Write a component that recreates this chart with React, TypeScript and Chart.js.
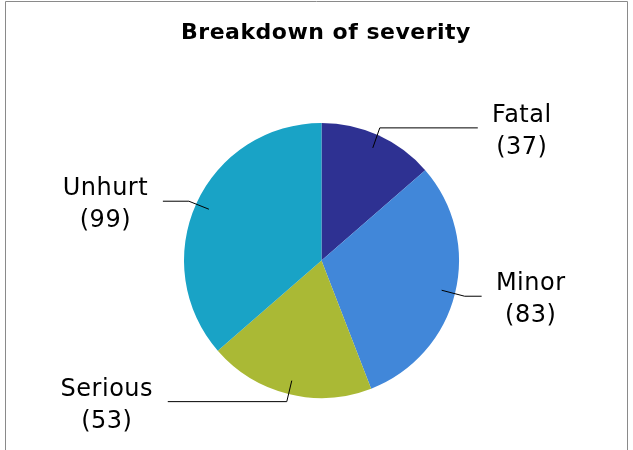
import React, { useEffect, useRef } from "react";
import { Chart, registerables } from "chart.js";

Chart.register(...registerables);

const TITLE = "Breakdown of severity";
const categories = ["Fatal", "Minor", "Serious", "Unhurt"];
const values = [37, 83, 53, 99];
const colors = ["#2E3192", "#4187D9", "#AAB935", "#19A3C6"];

// leader-line layout: elbow offset from start point, horizontal run length (signed)
const elbowDx = [7, 23, -5, -20];
const elbowDy = [-20, 6, 21, -8];
const runLen = [98, 17, -119, -26];

const FONT = '"DejaVu Sans", Verdana, sans-serif';

const labelPlugin = {
  id: "severityLabels",
  afterDraw(chart: any) {
    const ctx = chart.ctx;
    ctx.save();
    // border
    ctx.strokeStyle = "#8a8a8a";
    ctx.lineWidth = 1;
    ctx.beginPath();
    ctx.moveTo(5.5, 460);
    ctx.lineTo(5.5, 1.5);
    ctx.lineTo(627.5, 1.5);
    ctx.lineTo(627.5, 460);
    ctx.stroke();

    // title
    ctx.fillStyle = "#000";
    ctx.font = `bold 22px ${FONT}`;
    (ctx as any).letterSpacing = "0.5px";
    ctx.textAlign = "center";
    ctx.textBaseline = "alphabetic";
    ctx.fillText(TITLE, 326, 38.5);

    const meta = chart.getDatasetMeta(0);
    meta.data.forEach((arc: any, i: number) => {
      const p = arc.getProps(["x", "y", "startAngle", "endAngle", "outerRadius"], true);
      const mid = (p.startAngle + p.endAngle) / 2;
      const sx = p.x + Math.cos(mid) * p.outerRadius * 0.9;
      const sy = p.y + Math.sin(mid) * p.outerRadius * 0.9;
      const ex = sx + elbowDx[i];
      const ey = sy + elbowDy[i];
      const fx = ex + runLen[i];
      ctx.strokeStyle = "#000";
      ctx.lineWidth = 1;
      ctx.beginPath();
      ctx.moveTo(sx, sy);
      ctx.lineTo(ex, ey);
      ctx.lineTo(fx, ey);
      ctx.stroke();

      const right = runLen[i] > 0;
      ctx.font = `24px ${FONT}`;
      (ctx as any).letterSpacing = "0.5px";
      const l1 = categories[i];
      const l2 = `(${values[i]})`;
      const w = Math.max(ctx.measureText(l1).width, ctx.measureText(l2).width);
      const cx = right ? fx + 14 + w / 2 : fx - 15 - w / 2;
      ctx.textAlign = "center";
      ctx.fillStyle = "#000";
      ctx.fillText(l1, cx + 0.25, ey - 6);
      ctx.fillText(l2, cx + 0.25, ey + 26);
    });
    ctx.restore();
  },
};

export default function App() {
  const ref = useRef<HTMLCanvasElement | null>(null);
  useEffect(() => {
    if (!ref.current) return;
    const chart = new Chart(ref.current, {
      type: "pie",
      data: {
        labels: categories,
        datasets: [
          {
            data: values,
            backgroundColor: colors,
            borderWidth: 0,
          },
        ],
      },
      options: {
        animation: false,
        responsive: false,
        layout: { padding: { left: 184, right: 174, top: 123, bottom: 52 } },
        plugins: {
          legend: { display: false },
          tooltip: { enabled: false },
          title: { display: false },
        },
      },
      plugins: [labelPlugin],
    });
    return () => chart.destroy();
  }, []);
  return (
    <div style={{ position: "absolute", left: 0, top: 0, width: 633, height: 450, background: "#fff" }}>
      <canvas ref={ref} width={633} height={450} style={{ display: "block" }} />
    </div>
  );
}
